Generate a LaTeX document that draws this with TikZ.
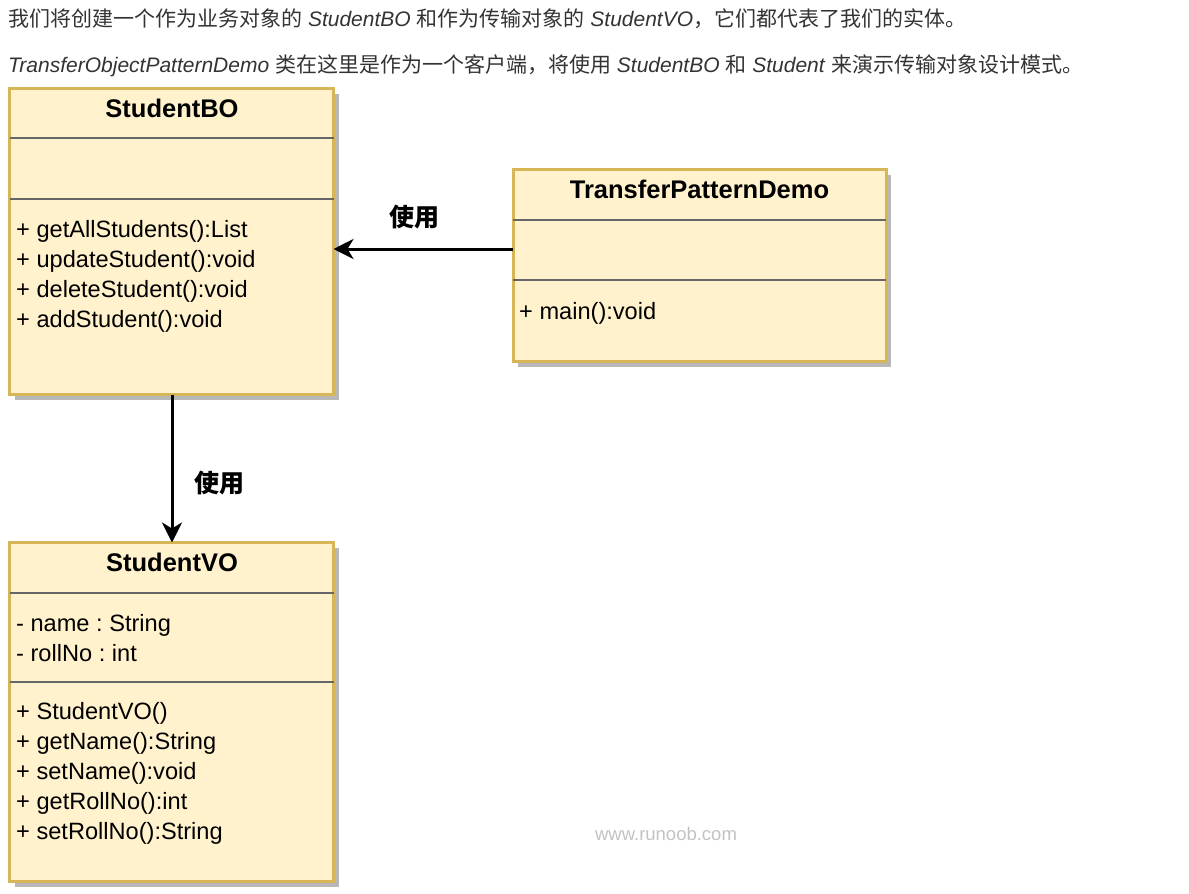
\documentclass[tikz,border=0pt]{standalone}
\usepackage{fontspec}
\setmainfont{Liberation Sans}
\newfontfamily\cjk{Noto Sans CJK SC}
\usetikzlibrary{shadows,arrows.meta}
\definecolor{boxfill}{HTML}{FFF2CC}
\definecolor{boxline}{HTML}{D6B656}
\definecolor{divline}{HTML}{666666}
\definecolor{toptext}{HTML}{333333}
\frenchspacing
\newcommand\zh[1]{{\cjk\fontsize{21}{24}\selectfont #1}}
\tikzset{
  classbox/.style={draw=boxline, fill=boxfill, line width=3pt, rectangle, inner sep=0pt, outer sep=0pt, anchor=north west,
    drop shadow={shadow xshift=5pt, shadow yshift=-5pt, fill=black!28, opacity=1}},
  divider/.style={draw=divline, line width=2.5pt},
  ctitle/.style={font=\fontsize{25.5}{30}\bfseries, anchor=base, inner sep=0pt},
  member/.style={font=\fontsize{23.6}{30}\selectfont, anchor=base west, inner sep=0pt},
  toplbl/.style={text=toptext, font=\fontsize{21}{24}\selectfont, anchor=base west, inner sep=0pt},
  uselbl/.style={font=\cjk\fontsize{25}{30}\bfseries, inner sep=0pt},
  conn/.style={line width=3pt, -{Stealth[length=20pt, width=20pt, inset=6pt]}},
}
\begin{document}
\begin{tikzpicture}[x=1pt, y=-1pt]
\useasboundingbox (0,0) rectangle (1189,894);
% top text
\node[toplbl] (t1) at (8,27) {\zh{我们将创建一个作为业务对象的} \textit{StudentBO} \zh{和作为传输对象的} \textit{StudentVO}\zh{，它们都代表了我们的实体。}};
\node[toplbl] (t2) at (8,72) {\textit{TransferObjectPatternDemo} \zh{类在这里是作为一个客户端，将使用} \textit{StudentBO} \zh{和} \textit{Student} \zh{来演示传输对象设计模式。}};

% StudentBO
\node[classbox, minimum width=324pt, minimum height=306pt] (bo) at (9.5,88.5) {};
\draw[divider] (bo.west |- 0,138) -- (bo.east |- 0,138);
\draw[divider] (bo.west |- 0,199) -- (bo.east |- 0,199);
\node[ctitle] (botitle) at (172,117) {StudentBO};
\node[member] (bom1) at (16,237.5) {+ getAllStudents():List};
\node[member] (bom2) at (16,267.5) {+ updateStudent():void};
\node[member] (bom3) at (16,297.5) {+ deleteStudent():void};
\node[member] (bom4) at (16,327.5) {+ addStudent():void};

% TransferPatternDemo
\node[classbox, minimum width=373pt, minimum height=192pt] (tp) at (513,169.5) {};
\draw[divider] (tp.west |- 0,220) -- (tp.east |- 0,220);
\draw[divider] (tp.west |- 0,280) -- (tp.east |- 0,280);
\node[ctitle] (tptitle) at (699.5,198) {TransferPatternDemo};
\node[member] (tpm1) at (519,319.5) {+ main():void};

% StudentVO
\node[classbox, minimum width=324pt, minimum height=339pt] (vo) at (9.5,542.5) {};
\draw[divider] (vo.west |- 0,593) -- (vo.east |- 0,593);
\draw[divider] (vo.west |- 0,682) -- (vo.east |- 0,682);
\node[ctitle] (votitle) at (172,571) {StudentVO};
\node[member] (voa1) at (16,631.5) {- name : String};
\node[member] (voa2) at (16,661.5) {- rollNo : int};
\node[member] (vom1) at (16,719.5) {+ StudentVO()};
\node[member] (vom2) at (16,749.5) {+ getName():String};
\node[member] (vom3) at (16,779.5) {+ setName():void};
\node[member] (vom4) at (16,809.5) {+ getRollNo():int};
\node[member] (vom5) at (16,839.5) {+ setRollNo():String};

% connectors
\draw[conn] (tp.west |- 0,249) -- (bo.east |- 0,249);
\node[uselbl] (u1) at (414,217) {使用};
\draw[conn] (bo.south -| 172,0) -- (vo.north -| 172,0);
\node[uselbl] (u2) at (219,483) {使用};

% watermark
\node[text=black!24, font=\fontsize{18.5}{20}\selectfont, inner sep=0pt] (wm) at (666,834) {www.runoob.com};
\end{tikzpicture}
\end{document}
